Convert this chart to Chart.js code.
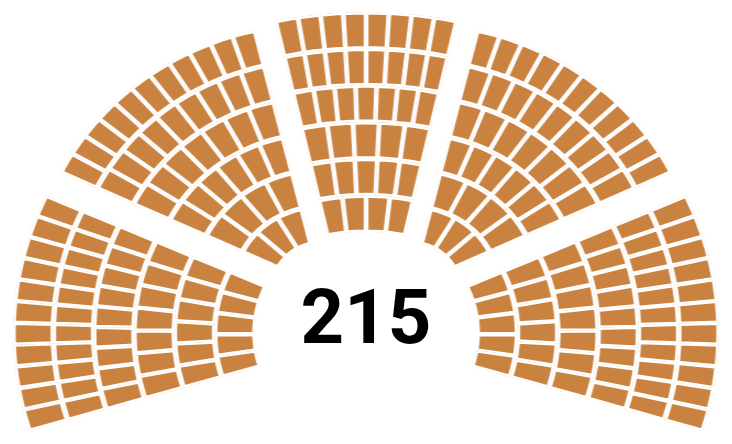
<!DOCTYPE html>
<html>
<head>
<meta charset="utf-8">
<script src="https://cdn.jsdelivr.net/npm/chart.js@4.4.1/dist/chart.umd.min.js"></script>
<style>
  html, body { margin: 0; padding: 0; background: #ffffff; overflow: hidden; }
  #root { position: relative; width: 732px; height: 444px; overflow: hidden; }
  #stage { position: absolute; left: 0; top: 0; width: 732px; height: 444px;
           transform: scaleX(1.1); transform-origin: 366px 0; }
  #stage canvas { position: absolute; }
  #label { position: absolute; left: 0; width: 732px; top: 279px; text-align: center;
           font-family: Roboto, "Liberation Sans", sans-serif; font-weight: 700;
           font-size: 76px; line-height: 76px; color: #000; }
</style>
</head>
<body>
<div id="root">
  <div id="stage"></div>
  <div id="label"></div>
</div>
<script>
// ---- data: seats per ring (outermost ring first) for each block ----
const blockNames = ['Left', 'Upper left', 'Centre', 'Upper right', 'Right'];
const leftSeats = [11, 11, 9, 7, 6, 5];
const upperLeftSeats = [11, 9, 7, 6, 4, 3];
const centreSeats = [8, 8, 7, 5, 5, 4];
const upperRightSeats = [11, 9, 7, 6, 4, 3];
const rightSeats = [11, 11, 9, 7, 6, 5];
const centerLabel = '215';

// ---- layout (geometry and style, not data) ----
const seatColor = '#c98240';
const gapHalf = 2.2;
const layout = [
  { seats: leftSeats,       cx: 378, cy: 333, rOut: 333, rIn: 113, from: -107.1, to: -65.6 },
  { seats: upperLeftSeats,  cx: 326, cy: 287, rOut: 264, rIn: 44,  from: -64.2,  to: -13.4 },
  { seats: centreSeats,     cx: 366, cy: 396, rOut: 384, rIn: 164, from: -12.4,  to: 12.4 },
  { seats: upperRightSeats, cx: 406, cy: 287, rOut: 264, rIn: 44,  from: 13.4,   to: 64.2 },
  { seats: rightSeats,      cx: 354, cy: 333, rOut: 333, rIn: 113, from: 65.6,   to: 107.1 }
];

document.getElementById('label').textContent = centerLabel;
const stage = document.getElementById('stage');

layout.forEach((b, bi) => {
  const size = 2 * Math.ceil(b.rOut) + 6;
  const cv = document.createElement('canvas');
  cv.width = size; cv.height = size;
  cv.style.left = (b.cx - size / 2) + 'px';
  cv.style.top = (b.cy - size / 2) + 'px';
  stage.appendChild(cv);

  const span = b.to - b.from;
  const datasets = b.seats.map((n, ri) => {
    const data = [], bg = [], bw = [];
    for (let k = 0; k < n; k++) { data.push(span / n); bg.push(seatColor); bw.push(gapHalf); }
    data.push(360 - span); bg.push('rgba(0,0,0,0)'); bw.push(0);
    return {
      label: blockNames[bi] + ' row ' + (ri + 1),
      data: data,
      backgroundColor: bg,
      borderColor: '#ffffff',
      borderWidth: bw,
      borderAlign: 'inner',
      hoverOffset: 0
    };
  });

  new Chart(cv, {
    type: 'doughnut',
    data: { labels: datasets[0].data.map((_, i) => String(i)), datasets: datasets },
    options: {
      responsive: false,
      animation: false,
      events: [],
      rotation: b.from,
      circumference: 360,
      radius: b.rOut,
      cutout: (b.rIn / b.rOut * 100) + '%',
      layout: { padding: 0 },
      plugins: { legend: { display: false }, tooltip: { enabled: false } }
    }
  });
});
</script>
</body>
</html>
